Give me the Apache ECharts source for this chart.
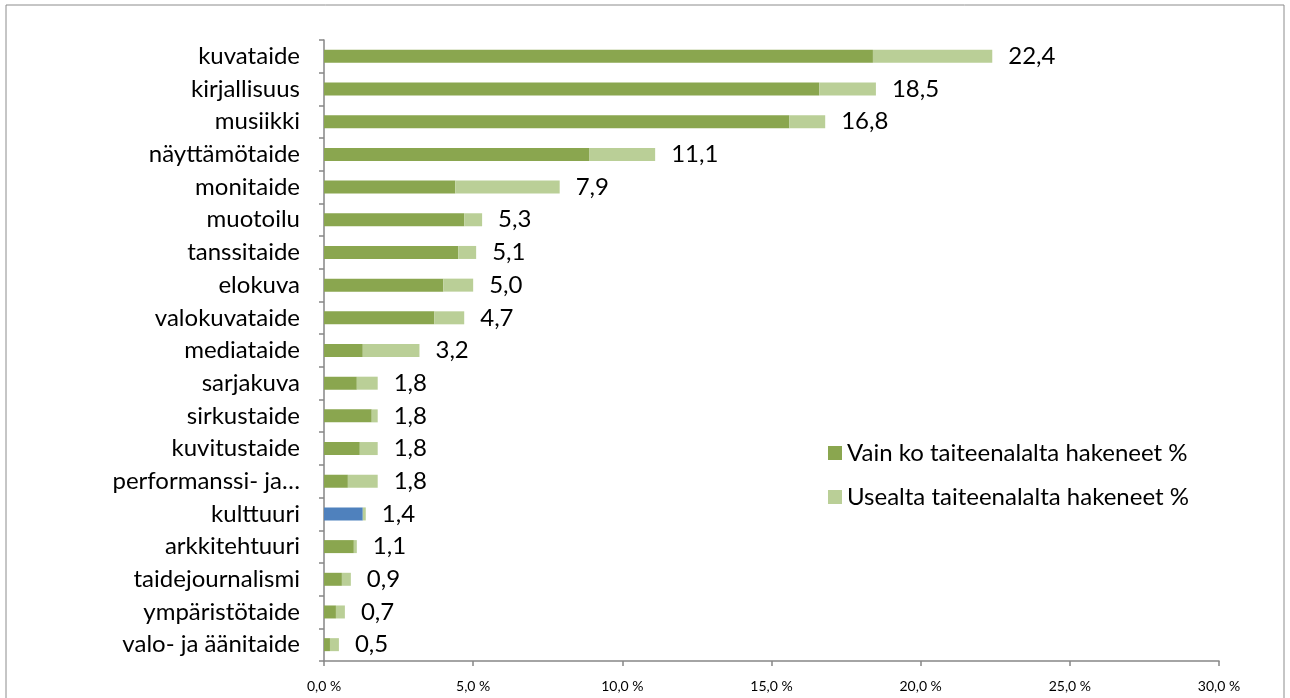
<!DOCTYPE html>
<html>
<head>
<meta charset="utf-8">
<title>Taiteenalat</title>
<script src="https://cdn.jsdelivr.net/npm/echarts@6/dist/echarts.min.js"></script>
<style>
  html, body { margin: 0; padding: 0; background: #fff; }
  #chart { width: 1290px; height: 698px; }
</style>
</head>
<body>
<div id="chart"></div>
<script>
// kategoriat ylhäältä alas
var categories = ['kuvataide', 'kirjallisuus', 'musiikki', 'näyttämötaide', 'monitaide', 'muotoilu',
  'tanssitaide', 'elokuva', 'valokuvataide', 'mediataide', 'sarjakuva', 'sirkustaide', 'kuvitustaide',
  'performanssi- ja…', 'kulttuuri', 'arkkitehtuuri', 'taidejournalismi', 'ympäristötaide', 'valo- ja äänitaide'];
// vain ko. taiteenalalta hakeneet %
var vainKo = [18.4, 16.6, 15.6, 8.9, 4.4, 4.7, 4.5, 4.0, 3.7, 1.3, 1.1, 1.6, 1.2, 0.8, 1.3, 1.0, 0.6, 0.4, 0.2];
// usealta taiteenalalta hakeneet %
var usealta = [4.0, 1.9, 1.2, 2.2, 3.5, 0.6, 0.6, 1.0, 1.0, 1.9, 0.7, 0.2, 0.6, 1.0, 0.1, 0.1, 0.3, 0.3, 0.3];
// yhteensä (datalabelit)
var totals = [22.4, 18.5, 16.8, 11.1, 7.9, 5.3, 5.1, 5.0, 4.7, 3.2, 1.8, 1.8, 1.8, 1.8, 1.4, 1.1, 0.9, 0.7, 0.5];
var xTicks = [0, 5, 10, 15, 20, 25, 30];

var darkGreen = '#8aa64f';
var lightGreen = '#bacf97';
var blue = '#4f81bd';
var fontName = 'Lato, "Open Sans", sans-serif';

function fi(v, d) { return v.toFixed(d).replace('.', ','); }

var myChart = echarts.init(document.getElementById('chart'));

myChart.setOption({
  animation: false,
  backgroundColor: '#fff',
  textStyle: { fontFamily: fontName },
  graphic: [{
    type: 'rect',
    shape: { x: 6, y: 5, width: 1278, height: 720 },
    style: { fill: 'none', stroke: '#8c8c8c', lineWidth: 1 }
  }],
  grid: { left: 324, right: 71, top: 40, bottom: 37, containLabel: false },
  legend: {
    orient: 'vertical',
    left: 823,
    top: 436,
    itemWidth: 14,
    itemHeight: 14,
    itemGap: 20,
    icon: 'rect',
    textStyle: { fontSize: 24, color: '#000', fontFamily: fontName },
    data: ['Vain ko taiteenalalta hakeneet %', 'Usealta taiteenalalta hakeneet %']
  },
  xAxis: {
    type: 'value',
    min: 0,
    max: 30,
    interval: 5,
    axisLine: { show: true, lineStyle: { color: '#868686', width: 1.5 } },
    axisTick: { show: true, length: 5, lineStyle: { color: '#868686', width: 1.5 } },
    splitLine: { show: false },
    axisLabel: {
      color: '#000', fontSize: 14, margin: 18, fontFamily: fontName,
      formatter: function (v) { return xTicks.indexOf(v) >= 0 ? fi(v, 1) + ' %' : ''; }
    }
  },
  yAxis: {
    type: 'category',
    inverse: true,
    data: categories,
    axisLine: { show: true, lineStyle: { color: '#868686', width: 1.5 } },
    axisTick: { show: true, length: 5, lineStyle: { color: '#868686', width: 1.5 } },
    axisLabel: { color: '#000', fontSize: 24, margin: 24, fontFamily: fontName }
  },
  series: [
    {
      name: 'Vain ko taiteenalalta hakeneet %',
      type: 'bar',
      stack: 'yht',
      barWidth: 13,
      itemStyle: { color: darkGreen },
      data: vainKo.map(function (v, i) {
        return categories[i] === 'kulttuuri' ? { value: v, itemStyle: { color: blue } } : v;
      })
    },
    {
      name: 'Usealta taiteenalalta hakeneet %',
      type: 'bar',
      stack: 'yht',
      barWidth: 13,
      itemStyle: { color: lightGreen },
      label: {
        show: true,
        position: 'right',
        distance: 16,
        color: '#000',
        fontSize: 24,
        fontFamily: fontName,
        formatter: function (p) { return fi(totals[p.dataIndex], 1); }
      },
      data: usealta
    }
  ]
});
</script>
</body>
</html>
